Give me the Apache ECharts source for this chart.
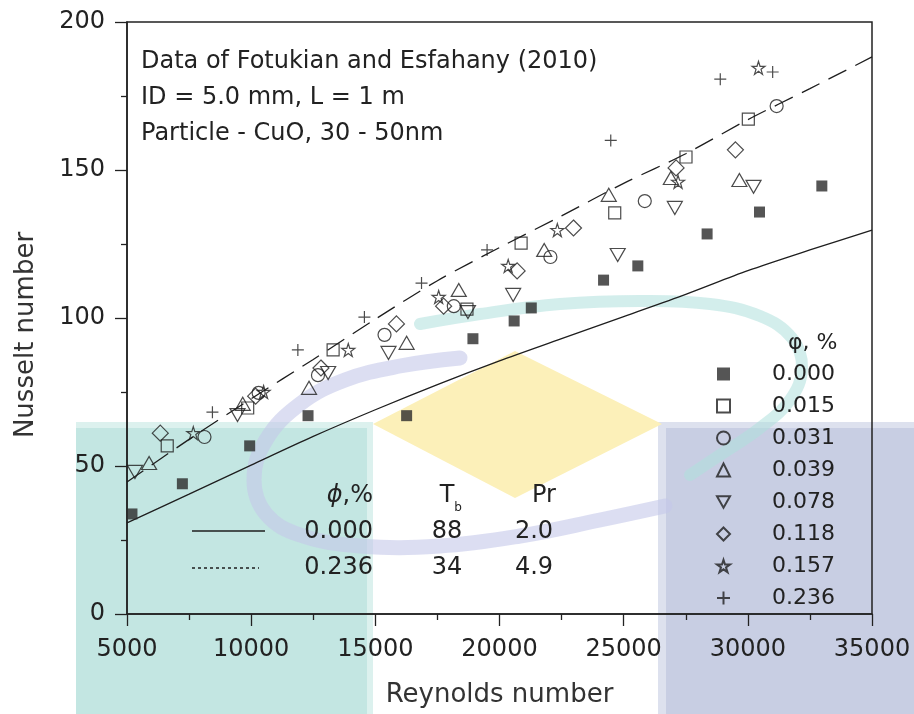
<!DOCTYPE html>
<html>
<head>
<meta charset="utf-8">
<script src="https://cdn.jsdelivr.net/npm/echarts@6/dist/echarts.min.js"></script>
<style>
  html, body { margin: 0; padding: 0; background: #ffffff; }
  #chart { width: 914px; height: 714px; }
</style>
</head>
<body>
<div id="chart"></div>
<script>
// Measured Nusselt numbers vs Reynolds number, grouped by particle volume fraction (phi, %)
const phi000 = [[5200,33.8],[7230,44.0],[9940,56.8],[12290,67.0],[16260,67.0],[18930,93.0],[20590,99.0],[21280,103.4],[24190,112.8],[25570,117.6],[28360,128.4],[30470,135.8],[32980,144.6]];
const phi015 = [[6620,56.8],[9860,69.6],[13300,89.2],[18690,103.0],[20870,125.3],[24640,135.5],[27510,154.4],[30020,167.2]];
const phi031 = [[8120,59.8],[10300,74.7],[12690,80.7],[15370,94.3],[18160,104.0],[22050,120.6],[25850,139.5],[31160,171.6]];
const phi039 = [[5890,51.0],[9660,71.0],[12330,76.4],[16260,91.6],[18360,109.5],[21800,123.0],[24400,141.6],[26900,147.3],[29660,146.6]];
const phi078 = [[5320,48.0],[9450,67.2],[13100,81.4],[15530,88.2],[18730,102.0],[20550,107.8],[24760,121.3],[27060,137.2],[30230,144.3]];
const phi118 = [[6340,61.1],[10180,73.6],[12810,83.1],[15850,98.0],[17750,104.0],[20710,115.9],[22980,130.4],[27110,150.7],[29500,156.8]];
const phi157 = [[7670,61.1],[10500,75.0],[13910,89.2],[17550,107.1],[20350,117.6],[22330,129.7],[27190,146.0],[30430,184.5]];
const phi236 = [[8440,68.2],[11880,89.2],[14560,100.3],[16860,111.8],[19500,123.0],[24480,160.0],[28890,180.7],[31000,183.1]];

// Correlation curves (solid: phi = 0.000, dashed: phi = 0.236)
const reCurve    = [5000,7500,10000,12500,15000,17500,20000,22500,25000,27500,30000,32500,35000];
const nuCurve000 = [30.8,40.5,50.3,60.0,69.0,77.5,85.5,93.0,100.5,108.0,116.0,123.0,129.7];
const nuCurve236 = [44.6,59.0,72.7,86.0,99.6,112.6,123.8,134.5,145.5,155.5,167.0,177.5,188.2];

// Legend labels and curve table
const phiLabels = ['0.000','0.015','0.031','0.039','0.078','0.118','0.157','0.236'];
const tablePhi = ['0.000','0.236'];
const tableTb  = ['88','34'];
const tablePr  = ['2.0','4.9'];
const noteLines = ['Data of Fotukian and Esfahany (2010)','ID = 5.0 mm, L = 1 m','Particle - CuO, 30 - 50nm'];

const FONT = 'DejaVu Sans';
const INK = '#1e1e1e';

const SYM = {
  star: 'path://M50,2L61,36L97,36L68,57L79,92L50,71L21,92L32,57L3,36L39,36Z',
  plus: 'path://M0,50L100,50M50,0L50,100',
  down: 'path://M0,0L100,0L50,87Z'
};

function scatter(name, data, symbol, size, filled) {
  return {
    type: 'scatter', name: name, data: data, symbol: symbol, symbolSize: size, z: 4,
    itemStyle: filled
      ? { color: '#2b2b2b', borderWidth: 0 }
      : { color: 'rgba(0,0,0,0)', borderColor: INK, borderWidth: 1.2 },
    emphasis: { disabled: true }
  };
}

function curve(name, ys, dash) {
  return {
    type: 'line', name: name, data: reCurve.map((x, i) => [x, ys[i]]),
    showSymbol: false, smooth: 0.3, z: 3,
    lineStyle: { color: INK, width: 1.3, type: dash },
    emphasis: { disabled: true }
  };
}

const axisCommon = {
  axisLine: { show: true, onZero: false, lineStyle: { color: '#222', width: 1.5 } },
  axisTick: { show: true, inside: false, length: 12, lineStyle: { color: '#222', width: 1.3 } },
  minorTick: { show: true, splitNumber: 2, length: 6, lineStyle: { color: '#222', width: 1.3 } },
  splitLine: { show: false },
  minorSplitLine: { show: false },
  axisLabel: { fontFamily: FONT, fontSize: 24, color: '#222', formatter: v => String(v) },
  nameTextStyle: { fontFamily: FONT, fontSize: 26, color: '#333' }
};

// Background watermark shapes
const watermark = [
  { type: 'rect', z: -20, shape: { x: 76, y: 422, width: 297, height: 292 }, style: { fill: '#dcf1ee' } },
  { type: 'rect', z: -19, shape: { x: 76, y: 428, width: 291, height: 286 }, style: { fill: '#c3e6e2' } },
  { type: 'rect', z: -20, shape: { x: 658, y: 422, width: 256, height: 292 }, style: { fill: '#dde1ee' } },
  { type: 'rect', z: -19, shape: { x: 666, y: 428, width: 248, height: 286 }, style: { fill: '#c8cee3' } },
  { type: 'polygon', z: -18, shape: { points: [[373,424],[515,351],[662,424],[515,498]] }, style: { fill: '#fcf0b9' } },
  { type: 'polyline', z: -17, shape: { points: [[420,324],[480,314],[560,304],[640,301],[710,304],[760,316],[792,338],[802,368],[790,400],[760,428],[720,455],[690,475]], smooth: 0.4 },
    style: { stroke: 'rgba(175,224,220,0.55)', lineWidth: 12, fill: null, lineCap: 'round' } },
  { type: 'polyline', z: -17, shape: { points: [[460,358],[400,366],[345,380],[300,404],[266,440],[254,480],[266,514],[300,535],[360,546],[440,546],[520,536],[600,520],[665,506]], smooth: 0.4 },
    style: { stroke: 'rgba(196,200,234,0.6)', lineWidth: 15, fill: null, lineCap: 'round' } }
];

// Curve table (phi, Tb, Pr) drawn inside the plot
const tableText = { fontFamily: FONT, fontSize: 24, fill: '#222' };
const table = [
  { type: 'text', z: 10, x: 373, y: 496, style: Object.assign({}, tableText, {
      text: '{i|ϕ},%', align: 'right', verticalAlign: 'middle',
      rich: { i: { fontFamily: FONT, fontSize: 24, fontStyle: 'italic', fill: '#222' } } }) },
  { type: 'text', z: 10, x: 447, y: 496, style: Object.assign({}, tableText, { text: 'T', align: 'center', verticalAlign: 'middle' }) },
  { type: 'text', z: 10, x: 458, y: 508, style: Object.assign({}, tableText, { text: 'b', fontSize: 12, align: 'center', verticalAlign: 'middle' }) },
  { type: 'text', z: 10, x: 544, y: 496, style: Object.assign({}, tableText, { text: 'Pr', align: 'center', verticalAlign: 'middle' }) },
  { type: 'line', z: 10, shape: { x1: 192, y1: 531, x2: 265, y2: 531 }, style: { stroke: INK, lineWidth: 1.4 } },
  { type: 'line', z: 10, shape: { x1: 192, y1: 568, x2: 259, y2: 568 }, style: { stroke: INK, lineWidth: 1.3, lineDash: [3, 3] } }
];
[532, 568].forEach((y, r) => {
  table.push({ type: 'text', z: 10, x: 373, y: y, style: Object.assign({}, tableText, { text: tablePhi[r], align: 'right', verticalAlign: 'middle' }) });
  table.push({ type: 'text', z: 10, x: 447, y: y, style: Object.assign({}, tableText, { text: tableTb[r], align: 'center', verticalAlign: 'middle' }) });
  table.push({ type: 'text', z: 10, x: 534, y: y, style: Object.assign({}, tableText, { text: tablePr[r], align: 'center', verticalAlign: 'middle' }) });
});
table.push({ type: 'text', z: 10, x: 788, y: 343, style: { text: 'φ, %', fontFamily: FONT, fontSize: 22, fill: '#222', align: 'left', verticalAlign: 'middle' } });

const chart = echarts.init(document.getElementById('chart'), null, { renderer: 'canvas' });
chart.setOption({
  animation: false,
  backgroundColor: '#ffffff',
  title: {
    text: noteLines.join('\n'), left: 136, top: 39,
    textStyle: { fontFamily: FONT, fontSize: 24, fontWeight: 'normal', color: '#222', lineHeight: 36 }
  },
  grid: { left: 127, right: 42, top: 22, bottom: 100, show: true, borderColor: '#222', borderWidth: 1.5, backgroundColor: 'transparent' },
  xAxis: Object.assign({}, axisCommon, {
    type: 'value', min: 5000, max: 35000, interval: 5000,
    name: 'Reynolds number', nameLocation: 'middle', nameGap: 68,
    axisLabel: Object.assign({}, axisCommon.axisLabel, { margin: 24 })
  }),
  yAxis: Object.assign({}, axisCommon, {
    type: 'value', min: 0, max: 200, interval: 50,
    name: 'Nusselt number', nameLocation: 'middle', nameGap: 88, nameRotate: 90,
    nameTextStyle: Object.assign({}, axisCommon.nameTextStyle, { padding: [0, 34, 0, 0] }),
    axisLabel: Object.assign({}, axisCommon.axisLabel, { margin: 22 })
  }),
  legend: {
    orient: 'vertical', left: 711, top: 358, itemWidth: 13, itemHeight: 13, itemGap: 10,
    selectedMode: false,
    textStyle: { fontFamily: FONT, fontSize: 22, color: '#222', padding: [0, 0, 0, 37] },
    data: phiLabels
  },
  graphic: { elements: watermark.concat(table) },
  series: [
    scatter(phiLabels[0], phi000, 'rect', 11, true),
    scatter(phiLabels[1], phi015, 'rect', 12, false),
    scatter(phiLabels[2], phi031, 'circle', 13, false),
    scatter(phiLabels[3], phi039, 'triangle', [15, 13], false),
    scatter(phiLabels[4], phi078, SYM.down, [15, 13], false),
    scatter(phiLabels[5], phi118, 'diamond', [16, 16], false),
    scatter(phiLabels[6], phi157, SYM.star, 13, false),
    scatter(phiLabels[7], phi236, SYM.plus, 12, false),
    curve('phi 0.000 correlation', nuCurve000, 'solid'),
    curve('phi 0.236 correlation', nuCurve236, [20, 10])
  ]
});
</script>
</body>
</html>
